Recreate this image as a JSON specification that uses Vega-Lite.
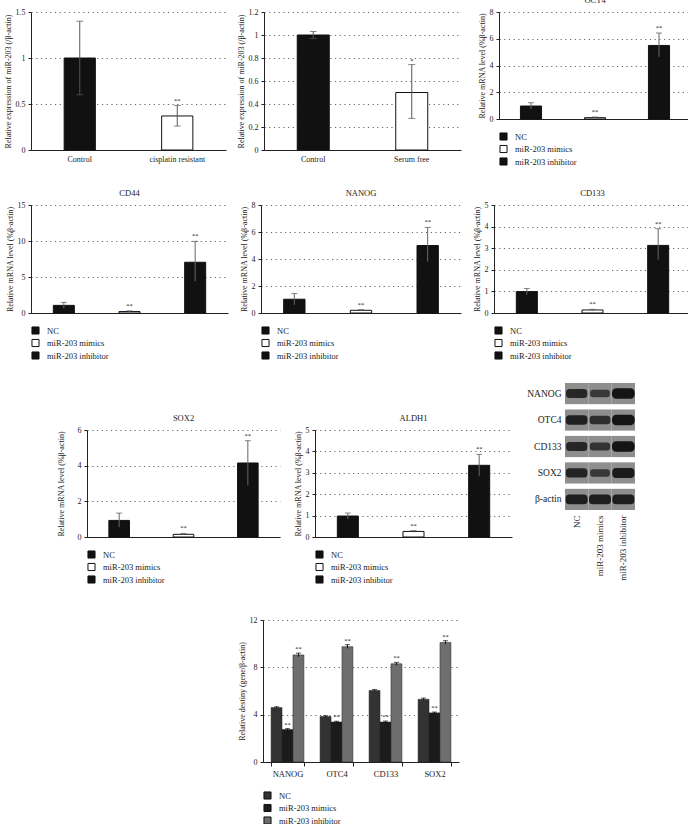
{
  "$schema": "https://vega.github.io/schema/vega-lite/v6.json",
  "padding": {"left": 3, "top": -5, "right": 0, "bottom": 0},
  "background": "white",
  "datasets": {
    "a": [
      {"group": "Control", "value": 1.0, "lo": 0.6, "hi": 1.4, "sig": ""},
      {"group": "cisplatin resistant", "value": 0.37, "lo": 0.26, "hi": 0.485, "sig": "**"}
    ],
    "b": [
      {"group": "Control", "value": 1.0, "lo": 0.97, "hi": 1.03, "sig": ""},
      {"group": "Serum free", "value": 0.5, "lo": 0.275, "hi": 0.743, "sig": "*"}
    ],
    "mrna": [
      {"gene": "OCT4", "group": "NC", "value": 0.97, "lo": 0.75, "hi": 1.22, "sig": ""},
      {"gene": "OCT4", "group": "miR-203 mimics", "value": 0.1, "lo": 0.05, "hi": 0.15, "sig": "**"},
      {"gene": "OCT4", "group": "miR-203 inhibitor", "value": 5.5, "lo": 4.65, "hi": 6.43, "sig": "**"},
      {"gene": "CD44", "group": "NC", "value": 1.06, "lo": 0.65, "hi": 1.47, "sig": ""},
      {"gene": "CD44", "group": "miR-203 mimics", "value": 0.2, "lo": 0.1, "hi": 0.3, "sig": "**"},
      {"gene": "CD44", "group": "miR-203 inhibitor", "value": 7.05, "lo": 4.4, "hi": 9.95, "sig": "**"},
      {"gene": "NANOG", "group": "NC", "value": 1.02, "lo": 0.6, "hi": 1.44, "sig": ""},
      {"gene": "NANOG", "group": "miR-203 mimics", "value": 0.2, "lo": 0.15, "hi": 0.25, "sig": "**"},
      {"gene": "NANOG", "group": "miR-203 inhibitor", "value": 5.0, "lo": 3.8, "hi": 6.34, "sig": "**"},
      {"gene": "CD133", "group": "NC", "value": 0.99, "lo": 0.85, "hi": 1.13, "sig": ""},
      {"gene": "CD133", "group": "miR-203 mimics", "value": 0.14, "lo": 0.11, "hi": 0.17, "sig": "**"},
      {"gene": "CD133", "group": "miR-203 inhibitor", "value": 3.13, "lo": 2.47, "hi": 3.9, "sig": "**"},
      {"gene": "SOX2", "group": "NC", "value": 0.93, "lo": 0.55, "hi": 1.34, "sig": ""},
      {"gene": "SOX2", "group": "miR-203 mimics", "value": 0.15, "lo": 0.11, "hi": 0.2, "sig": "**"},
      {"gene": "SOX2", "group": "miR-203 inhibitor", "value": 4.15, "lo": 2.9, "hi": 5.4, "sig": "**"},
      {"gene": "ALDH1", "group": "NC", "value": 0.98, "lo": 0.84, "hi": 1.12, "sig": ""},
      {"gene": "ALDH1", "group": "miR-203 mimics", "value": 0.26, "lo": 0.22, "hi": 0.3, "sig": "**"},
      {"gene": "ALDH1", "group": "miR-203 inhibitor", "value": 3.35, "lo": 2.84, "hi": 3.86, "sig": "**"}
    ],
    "blot": [
      {"protein": "NANOG", "lane": "NC", "intensity": 0.85},
      {"protein": "NANOG", "lane": "miR-203 mimics", "intensity": 0.7},
      {"protein": "NANOG", "lane": "miR-203 inhibitor", "intensity": 1.0},
      {"protein": "OTC4", "lane": "NC", "intensity": 0.9},
      {"protein": "OTC4", "lane": "miR-203 mimics", "intensity": 0.8},
      {"protein": "OTC4", "lane": "miR-203 inhibitor", "intensity": 1.0},
      {"protein": "CD133", "lane": "NC", "intensity": 0.85},
      {"protein": "CD133", "lane": "miR-203 mimics", "intensity": 0.75},
      {"protein": "CD133", "lane": "miR-203 inhibitor", "intensity": 1.0},
      {"protein": "SOX2", "lane": "NC", "intensity": 0.88},
      {"protein": "SOX2", "lane": "miR-203 mimics", "intensity": 0.7},
      {"protein": "SOX2", "lane": "miR-203 inhibitor", "intensity": 0.95},
      {"protein": "β-actin", "lane": "NC", "intensity": 0.92},
      {"protein": "β-actin", "lane": "miR-203 mimics", "intensity": 0.92},
      {"protein": "β-actin", "lane": "miR-203 inhibitor", "intensity": 0.92}
    ],
    "dens": [
      {"gene": "NANOG", "group": "NC", "value": 4.6, "lo": 4.55, "hi": 4.67, "sig": ""},
      {"gene": "NANOG", "group": "miR-203 mimics", "value": 2.75, "lo": 2.68, "hi": 2.82, "sig": "**"},
      {"gene": "NANOG", "group": "miR-203 inhibitor", "value": 9.05, "lo": 8.9, "hi": 9.2, "sig": "**"},
      {"gene": "OTC4", "group": "NC", "value": 3.85, "lo": 3.79, "hi": 3.91, "sig": ""},
      {"gene": "OTC4", "group": "miR-203 mimics", "value": 3.38, "lo": 3.32, "hi": 3.44, "sig": "**"},
      {"gene": "OTC4", "group": "miR-203 inhibitor", "value": 9.75, "lo": 9.6, "hi": 9.92, "sig": "**"},
      {"gene": "CD133", "group": "NC", "value": 6.05, "lo": 5.98, "hi": 6.12, "sig": ""},
      {"gene": "CD133", "group": "miR-203 mimics", "value": 3.38, "lo": 3.3, "hi": 3.46, "sig": "**"},
      {"gene": "CD133", "group": "miR-203 inhibitor", "value": 8.3, "lo": 8.18, "hi": 8.42, "sig": "**"},
      {"gene": "SOX2", "group": "NC", "value": 5.3, "lo": 5.22, "hi": 5.4, "sig": ""},
      {"gene": "SOX2", "group": "miR-203 mimics", "value": 4.15, "lo": 4.08, "hi": 4.22, "sig": "**"},
      {"gene": "SOX2", "group": "miR-203 inhibitor", "value": 10.1, "lo": 9.95, "hi": 10.25, "sig": "**"}
    ]
  },
  "vconcat": [
    {
      "vconcat": [
        {
          "hconcat": [
            {
              "width": 195, "height": 138,
              "data": {"name": "a"},
              "encoding": {"x": {"field": "group", "type": "nominal", "sort": null, "scale": {"paddingInner": 0.68, "paddingOuter": 0.34}, "axis": {"title": null, "labelPadding": 5}}},
              "layer": [
                {"mark": "bar", "encoding": {"y": {"field": "value", "type": "quantitative", "scale": {"domain": [0, 1.5], "nice": false}, "axis": {"values": [0, 0.5, 1, 1.5], "format": "~g", "title": "Relative expression of miR-203 (/β-actin)"}}, "fill": {"field": "group", "type": "nominal", "sort": null, "scale": {"range": ["#111111", "#ffffff"]}, "legend": null}}},
                {"mark": {"type": "rule", "color": "#555"}, "encoding": {"y": {"field": "lo", "type": "quantitative", "scale": {"domain": [0, 1.5], "nice": false}, "axis": {"values": [0, 0.5, 1, 1.5], "format": "~g", "title": "Relative expression of miR-203 (/β-actin)"}}, "y2": {"field": "hi"}}},
                {"mark": {"type": "tick", "size": 7, "thickness": 1, "color": "#555"}, "encoding": {"y": {"field": "hi", "type": "quantitative", "scale": {"domain": [0, 1.5], "nice": false}, "axis": {"values": [0, 0.5, 1, 1.5], "format": "~g", "title": "Relative expression of miR-203 (/β-actin)"}}}},
                {"mark": {"type": "tick", "size": 7, "thickness": 1, "color": "#555"}, "encoding": {"y": {"field": "lo", "type": "quantitative", "scale": {"domain": [0, 1.5], "nice": false}, "axis": {"values": [0, 0.5, 1, 1.5], "format": "~g", "title": "Relative expression of miR-203 (/β-actin)"}}}},
                {"mark": {"type": "text", "dy": -1, "baseline": "bottom", "fontSize": 6.5}, "encoding": {"y": {"field": "hi", "type": "quantitative", "scale": {"domain": [0, 1.5], "nice": false}, "axis": {"values": [0, 0.5, 1, 1.5], "format": "~g", "title": "Relative expression of miR-203 (/β-actin)"}}, "text": {"field": "sig"}}}
              ]
            },
            {
              "width": 197, "height": 138,
              "data": {"name": "b"},
              "encoding": {"x": {"field": "group", "type": "nominal", "sort": null, "scale": {"paddingInner": 0.675, "paddingOuter": 0.3375}, "axis": {"title": null, "labelPadding": 5}}},
              "layer": [
                {"mark": "bar", "encoding": {"y": {"field": "value", "type": "quantitative", "scale": {"domain": [0, 1.2], "nice": false}, "axis": {"values": [0, 0.2, 0.4, 0.6, 0.8, 1, 1.2], "format": "~g", "title": "Relative expression of miR-203 (/β-actin)"}}, "fill": {"field": "group", "type": "nominal", "sort": null, "scale": {"range": ["#111111", "#ffffff"]}, "legend": null}}},
                {"mark": {"type": "rule", "color": "#555"}, "encoding": {"y": {"field": "lo", "type": "quantitative", "scale": {"domain": [0, 1.2], "nice": false}, "axis": {"values": [0, 0.2, 0.4, 0.6, 0.8, 1, 1.2], "format": "~g", "title": "Relative expression of miR-203 (/β-actin)"}}, "y2": {"field": "hi"}}},
                {"mark": {"type": "tick", "size": 7, "thickness": 1, "color": "#555"}, "encoding": {"y": {"field": "hi", "type": "quantitative", "scale": {"domain": [0, 1.2], "nice": false}, "axis": {"values": [0, 0.2, 0.4, 0.6, 0.8, 1, 1.2], "format": "~g", "title": "Relative expression of miR-203 (/β-actin)"}}}},
                {"mark": {"type": "tick", "size": 7, "thickness": 1, "color": "#555"}, "encoding": {"y": {"field": "lo", "type": "quantitative", "scale": {"domain": [0, 1.2], "nice": false}, "axis": {"values": [0, 0.2, 0.4, 0.6, 0.8, 1, 1.2], "format": "~g", "title": "Relative expression of miR-203 (/β-actin)"}}}},
                {"mark": {"type": "text", "dy": -1, "baseline": "bottom", "fontSize": 6.5}, "encoding": {"y": {"field": "hi", "type": "quantitative", "scale": {"domain": [0, 1.2], "nice": false}, "axis": {"values": [0, 0.2, 0.4, 0.6, 0.8, 1, 1.2], "format": "~g", "title": "Relative expression of miR-203 (/β-actin)"}}, "text": {"field": "sig"}}}
              ]
            },
            {
              "width": 192, "height": 107, "title": "OCT4",
              "data": {"name": "mrna"},
              "transform": [{"filter": "datum.gene === 'OCT4'"}],
              "encoding": {"x": {"field": "group", "type": "nominal", "sort": null, "scale": {"paddingInner": 0.67, "paddingOuter": 0.335}, "axis": {"title": null, "labels": false}}},
              "layer": [
                {"mark": "bar", "encoding": {"y": {"field": "value", "type": "quantitative", "scale": {"domain": [0, 8], "nice": false}, "axis": {"values": [0, 2, 4, 6, 8], "title": "Relative mRNA level (%β-actin)"}}, "fill": {"field": "group", "type": "nominal", "sort": null, "scale": {"range": ["#111111", "#ffffff", "#111111"]}, "legend": {"title": null}}}},
                {"mark": {"type": "rule", "color": "#666"}, "encoding": {"y": {"field": "lo", "type": "quantitative", "scale": {"domain": [0, 8], "nice": false}, "axis": {"values": [0, 2, 4, 6, 8], "title": "Relative mRNA level (%β-actin)"}}, "y2": {"field": "hi"}}},
                {"mark": {"type": "tick", "size": 6, "thickness": 1, "color": "#555"}, "encoding": {"y": {"field": "hi", "type": "quantitative", "scale": {"domain": [0, 8], "nice": false}, "axis": {"values": [0, 2, 4, 6, 8], "title": "Relative mRNA level (%β-actin)"}}}},
                {"mark": {"type": "text", "dy": -2, "baseline": "bottom", "fontSize": 6.5}, "encoding": {"y": {"field": "hi", "type": "quantitative", "scale": {"domain": [0, 8], "nice": false}, "axis": {"values": [0, 2, 4, 6, 8], "title": "Relative mRNA level (%β-actin)"}}, "text": {"field": "sig"}}}
              ]
            }
          ],
          "spacing": 38,
          "bounds": "flush",
          "resolve": {"scale": {"x": "independent", "y": "independent", "fill": "independent"}, "legend": {"fill": "independent"}}
        },
        {
          "hconcat": [
            {
              "width": 197, "height": 108, "title": "CD44",
              "data": {"name": "mrna"},
              "transform": [{"filter": "datum.gene === 'CD44'"}],
              "encoding": {"x": {"field": "group", "type": "nominal", "sort": null, "scale": {"paddingInner": 0.68, "paddingOuter": 0.34}, "axis": {"title": null, "labels": false}}},
              "layer": [
                {"mark": "bar", "encoding": {"y": {"field": "value", "type": "quantitative", "scale": {"domain": [0, 15], "nice": false}, "axis": {"values": [0, 5, 10, 15], "title": "Relative mRNA level (%β-actin)"}}, "fill": {"field": "group", "type": "nominal", "sort": null, "scale": {"range": ["#111111", "#ffffff", "#111111"]}, "legend": {"title": null}}}},
                {"mark": {"type": "rule", "color": "#666"}, "encoding": {"y": {"field": "lo", "type": "quantitative", "scale": {"domain": [0, 15], "nice": false}, "axis": {"values": [0, 5, 10, 15], "title": "Relative mRNA level (%β-actin)"}}, "y2": {"field": "hi"}}},
                {"mark": {"type": "tick", "size": 6, "thickness": 1, "color": "#555"}, "encoding": {"y": {"field": "hi", "type": "quantitative", "scale": {"domain": [0, 15], "nice": false}, "axis": {"values": [0, 5, 10, 15], "title": "Relative mRNA level (%β-actin)"}}}},
                {"mark": {"type": "text", "dy": -2, "baseline": "bottom", "fontSize": 6.5}, "encoding": {"y": {"field": "hi", "type": "quantitative", "scale": {"domain": [0, 15], "nice": false}, "axis": {"values": [0, 5, 10, 15], "title": "Relative mRNA level (%β-actin)"}}, "text": {"field": "sig"}}}
              ]
            },
            {
              "width": 200, "height": 108, "title": "NANOG",
              "data": {"name": "mrna"},
              "transform": [{"filter": "datum.gene === 'NANOG'"}],
              "encoding": {"x": {"field": "group", "type": "nominal", "sort": null, "scale": {"paddingInner": 0.68, "paddingOuter": 0.34}, "axis": {"title": null, "labels": false}}},
              "layer": [
                {"mark": "bar", "encoding": {"y": {"field": "value", "type": "quantitative", "scale": {"domain": [0, 8], "nice": false}, "axis": {"values": [0, 2, 4, 6, 8], "title": "Relative mRNA level (%β-actin)"}}, "fill": {"field": "group", "type": "nominal", "sort": null, "scale": {"range": ["#111111", "#ffffff", "#111111"]}, "legend": {"title": null}}}},
                {"mark": {"type": "rule", "color": "#666"}, "encoding": {"y": {"field": "lo", "type": "quantitative", "scale": {"domain": [0, 8], "nice": false}, "axis": {"values": [0, 2, 4, 6, 8], "title": "Relative mRNA level (%β-actin)"}}, "y2": {"field": "hi"}}},
                {"mark": {"type": "tick", "size": 6, "thickness": 1, "color": "#555"}, "encoding": {"y": {"field": "hi", "type": "quantitative", "scale": {"domain": [0, 8], "nice": false}, "axis": {"values": [0, 2, 4, 6, 8], "title": "Relative mRNA level (%β-actin)"}}}},
                {"mark": {"type": "text", "dy": -2, "baseline": "bottom", "fontSize": 6.5}, "encoding": {"y": {"field": "hi", "type": "quantitative", "scale": {"domain": [0, 8], "nice": false}, "axis": {"values": [0, 2, 4, 6, 8], "title": "Relative mRNA level (%β-actin)"}}, "text": {"field": "sig"}}}
              ]
            },
            {
              "width": 197, "height": 108, "title": "CD133",
              "data": {"name": "mrna"},
              "transform": [{"filter": "datum.gene === 'CD133'"}],
              "encoding": {"x": {"field": "group", "type": "nominal", "sort": null, "scale": {"paddingInner": 0.68, "paddingOuter": 0.34}, "axis": {"title": null, "labels": false}}},
              "layer": [
                {"mark": "bar", "encoding": {"y": {"field": "value", "type": "quantitative", "scale": {"domain": [0, 5], "nice": false}, "axis": {"values": [0, 1, 2, 3, 4, 5], "title": "Relative mRNA level (%β-actin)"}}, "fill": {"field": "group", "type": "nominal", "sort": null, "scale": {"range": ["#111111", "#ffffff", "#111111"]}, "legend": {"title": null}}}},
                {"mark": {"type": "rule", "color": "#666"}, "encoding": {"y": {"field": "lo", "type": "quantitative", "scale": {"domain": [0, 5], "nice": false}, "axis": {"values": [0, 1, 2, 3, 4, 5], "title": "Relative mRNA level (%β-actin)"}}, "y2": {"field": "hi"}}},
                {"mark": {"type": "tick", "size": 6, "thickness": 1, "color": "#555"}, "encoding": {"y": {"field": "hi", "type": "quantitative", "scale": {"domain": [0, 5], "nice": false}, "axis": {"values": [0, 1, 2, 3, 4, 5], "title": "Relative mRNA level (%β-actin)"}}}},
                {"mark": {"type": "text", "dy": -2, "baseline": "bottom", "fontSize": 6.5}, "encoding": {"y": {"field": "hi", "type": "quantitative", "scale": {"domain": [0, 5], "nice": false}, "axis": {"values": [0, 1, 2, 3, 4, 5], "title": "Relative mRNA level (%β-actin)"}}, "text": {"field": "sig"}}}
              ]
            }
          ],
          "spacing": 33,
          "bounds": "flush",
          "resolve": {"scale": {"x": "independent", "y": "independent", "fill": "independent"}, "legend": {"fill": "independent"}}
        }
      ],
      "spacing": 20,
      "resolve": {"scale": {"x": "independent", "y": "independent", "fill": "independent"}, "legend": {"fill": "independent"}}
    },
    {
      "vconcat": [
        {
          "hconcat": [
            {
              "width": 193, "height": 107, "title": "SOX2",
              "data": {"name": "mrna"},
              "transform": [{"filter": "datum.gene === 'SOX2'"}],
              "encoding": {"x": {"field": "group", "type": "nominal", "sort": null, "scale": {"paddingInner": 0.68, "paddingOuter": 0.34}, "axis": {"title": null, "labels": false}}},
              "layer": [
                {"mark": "bar", "encoding": {"y": {"field": "value", "type": "quantitative", "scale": {"domain": [0, 6], "nice": false}, "axis": {"values": [0, 2, 4, 6], "titlePadding": 12, "title": "Relative mRNA level (%β-actin)"}}, "fill": {"field": "group", "type": "nominal", "sort": null, "scale": {"range": ["#111111", "#ffffff", "#111111"]}, "legend": {"title": null}}}},
                {"mark": {"type": "rule", "color": "#666"}, "encoding": {"y": {"field": "lo", "type": "quantitative", "scale": {"domain": [0, 6], "nice": false}, "axis": {"values": [0, 2, 4, 6], "titlePadding": 12, "title": "Relative mRNA level (%β-actin)"}}, "y2": {"field": "hi"}}},
                {"mark": {"type": "tick", "size": 6, "thickness": 1, "color": "#555"}, "encoding": {"y": {"field": "hi", "type": "quantitative", "scale": {"domain": [0, 6], "nice": false}, "axis": {"values": [0, 2, 4, 6], "titlePadding": 12, "title": "Relative mRNA level (%β-actin)"}}}},
                {"mark": {"type": "text", "dy": -2, "baseline": "bottom", "fontSize": 6.5}, "encoding": {"y": {"field": "hi", "type": "quantitative", "scale": {"domain": [0, 6], "nice": false}, "axis": {"values": [0, 2, 4, 6], "titlePadding": 12, "title": "Relative mRNA level (%β-actin)"}}, "text": {"field": "sig"}}}
              ]
            },
            {
              "width": 197, "height": 107, "title": "ALDH1",
              "data": {"name": "mrna"},
              "transform": [{"filter": "datum.gene === 'ALDH1'"}],
              "encoding": {"x": {"field": "group", "type": "nominal", "sort": null, "scale": {"paddingInner": 0.68, "paddingOuter": 0.34}, "axis": {"title": null, "labels": false}}},
              "layer": [
                {"mark": "bar", "encoding": {"y": {"field": "value", "type": "quantitative", "scale": {"domain": [0, 5], "nice": false}, "axis": {"values": [0, 1, 2, 3, 4, 5], "title": "Relative mRNA level (%β-actin)"}}, "fill": {"field": "group", "type": "nominal", "sort": null, "scale": {"range": ["#111111", "#ffffff", "#111111"]}, "legend": {"title": null}}}},
                {"mark": {"type": "rule", "color": "#666"}, "encoding": {"y": {"field": "lo", "type": "quantitative", "scale": {"domain": [0, 5], "nice": false}, "axis": {"values": [0, 1, 2, 3, 4, 5], "title": "Relative mRNA level (%β-actin)"}}, "y2": {"field": "hi"}}},
                {"mark": {"type": "tick", "size": 6, "thickness": 1, "color": "#555"}, "encoding": {"y": {"field": "hi", "type": "quantitative", "scale": {"domain": [0, 5], "nice": false}, "axis": {"values": [0, 1, 2, 3, 4, 5], "title": "Relative mRNA level (%β-actin)"}}}},
                {"mark": {"type": "text", "dy": -2, "baseline": "bottom", "fontSize": 6.5}, "encoding": {"y": {"field": "hi", "type": "quantitative", "scale": {"domain": [0, 5], "nice": false}, "axis": {"values": [0, 1, 2, 3, 4, 5], "title": "Relative mRNA level (%β-actin)"}}, "text": {"field": "sig"}}}
              ]
            },
            {
              "width": 88, "height": 201,
              "data": {"name": "blot"},
              "encoding": {
                "x": {"field": "lane", "type": "nominal", "sort": null, "scale": {"range": [18, 88], "paddingInner": 0, "paddingOuter": 0}, "axis": {"title": null, "offset": -74, "domain": false, "ticks": false, "grid": false, "labelAngle": -90, "labelFontSize": 9, "labelPadding": 5}},
                "y": {"field": "protein", "type": "nominal", "sort": null, "scale": {"range": [0, 127], "paddingInner": 0.2, "paddingOuter": 0}, "axis": {"title": null, "offset": -18, "domain": false, "ticks": false, "grid": false, "labelFontSize": 9.5, "labelPadding": 4}}
              },
              "layer": [
                {"mark": {"type": "rect", "fill": "#8e8e8e", "stroke": null}},
                {"mark": {"type": "rect", "fill": "#151515", "stroke": "#151515", "height": {"band": 0.28}, "width": {"band": 0.78}, "cornerRadius": 2},
                 "encoding": {"opacity": {"field": "intensity", "type": "quantitative", "scale": {"domain": [0, 1], "range": [0, 1]}, "legend": null},
                              "strokeWidth": {"field": "intensity", "type": "quantitative", "scale": {"domain": [0.6, 1], "range": [0.5, 4.5]}, "legend": null}}}
              ]
            }
          ],
          "spacing": 35,
          "center": true,
          "bounds": "flush",
          "resolve": {"scale": {"x": "independent", "y": "independent", "fill": "independent"}, "legend": {"fill": "independent"}}
        },
        {
          "width": 196, "height": 142,
          "data": {"name": "dens"},
          "encoding": {
            "x": {"field": "gene", "type": "nominal", "sort": null, "scale": {"paddingInner": 0.33, "paddingOuter": 0.165}, "axis": {"title": null, "labelPadding": 3, "ticks": true, "tickBand": "extent", "tickSize": 4, "labelFontSize": 8.5}},
            "xOffset": {"field": "group", "type": "nominal", "sort": null, "scale": {"paddingInner": 0}}
          },
          "layer": [
            {"mark": {"type": "bar", "stroke": "#222", "strokeWidth": 0.5}, "encoding": {"y": {"field": "value", "type": "quantitative", "scale": {"domain": [0, 12], "nice": false}, "axis": {"values": [0, 4, 8, 12], "title": "Relative destiny (gene/β-actin)"}}, "fill": {"field": "group", "type": "nominal", "sort": null, "scale": {"range": ["#333333", "#1b1b1b", "#6e6e6e"]}, "legend": {"title": null}}}},
            {"mark": {"type": "rule", "color": "#111"}, "encoding": {"y": {"field": "lo", "type": "quantitative", "scale": {"domain": [0, 12], "nice": false}, "axis": {"values": [0, 4, 8, 12], "title": "Relative destiny (gene/β-actin)"}}, "y2": {"field": "hi"}}},
            {"mark": {"type": "tick", "size": 5, "thickness": 1, "color": "#111"}, "encoding": {"y": {"field": "hi", "type": "quantitative", "scale": {"domain": [0, 12], "nice": false}, "axis": {"values": [0, 4, 8, 12], "title": "Relative destiny (gene/β-actin)"}}}},
            {"mark": {"type": "text", "dy": -1, "baseline": "bottom", "fontSize": 6.5}, "encoding": {"y": {"field": "hi", "type": "quantitative", "scale": {"domain": [0, 12], "nice": false}, "axis": {"values": [0, 4, 8, 12], "title": "Relative destiny (gene/β-actin)"}}, "text": {"field": "sig"}}}
          ]
        }
      ],
      "spacing": 30,
      "center": true,
      "resolve": {"scale": {"x": "independent", "y": "independent", "fill": "independent"}, "legend": {"fill": "independent"}}
    }
  ],
  "spacing": 21,
  "center": true,
  "resolve": {"scale": {"x": "independent", "y": "independent", "fill": "independent"}, "legend": {"fill": "independent"}},
  "config": {
    "font": "Liberation Serif",
    "view": {"stroke": null},
    "axis": {"labelFont": "Liberation Serif", "titleFont": "Liberation Serif", "labelFontSize": 8, "titleFontSize": 8, "titleFontWeight": "normal", "labelColor": "#222", "titleColor": "#222", "domainColor": "#222", "tickColor": "#222", "gridColor": "#666", "gridDash": [1.2, 3.5], "gridWidth": 1, "tickSize": 3, "titlePadding": 3, "labelPadding": 3},
    "axisX": {"grid": false, "ticks": false, "labelAngle": 0},
    "axisY": {"grid": true},
    "legend": {"orient": "bottom", "direction": "vertical", "symbolType": "square", "symbolSize": 50, "symbolStrokeColor": "#111", "symbolStrokeWidth": 1, "labelFont": "Liberation Serif", "labelFontSize": 8.5, "labelColor": "#222", "rowPadding": -0.5, "offset": 13, "padding": 0, "labelOffset": 7},
    "title": {"font": "Liberation Serif", "fontSize": 8.5, "fontWeight": "normal", "color": "#222", "offset": 0},
    "bar": {"stroke": "#111", "strokeWidth": 1},
    "text": {"font": "Liberation Serif", "color": "#222"}
  }
}
